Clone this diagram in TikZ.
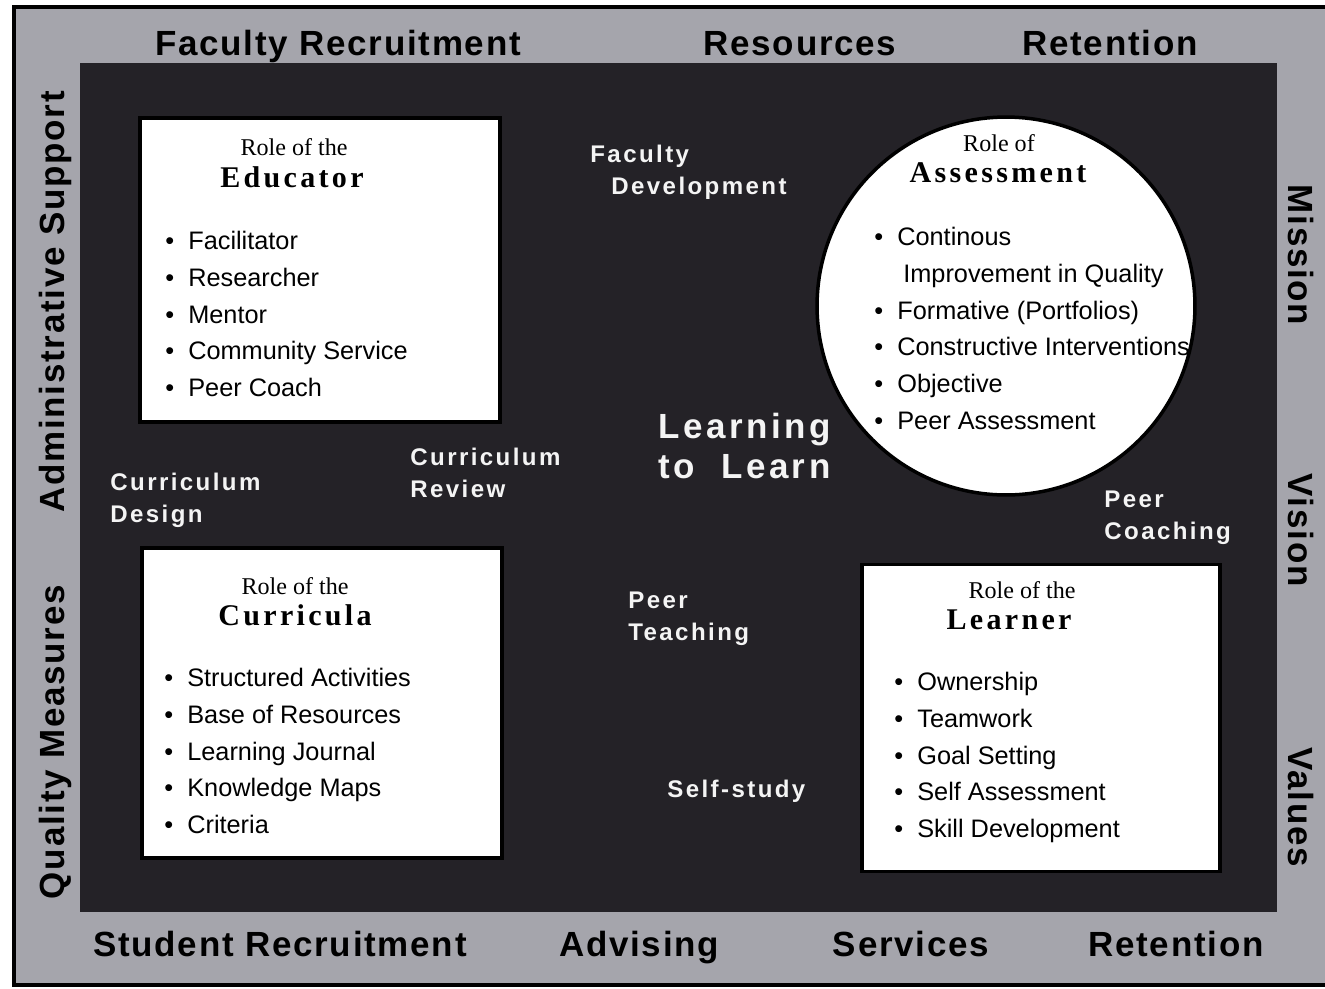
\documentclass[tikz,border=0pt]{standalone}
\usepackage{fontspec}
\setmainfont{Liberation Serif}
\setsansfont{Liberation Sans}
\newfontfamily\labelfont[LetterSpace=5]{Liberation Sans}
\newfontfamily\innerfont[LetterSpace=10]{Liberation Sans}
\newfontfamily\rolefont[LetterSpace=11]{Liberation Serif}
\usetikzlibrary{positioning}
\definecolor{framegray}{RGB}{165,165,172}
\definecolor{fieldblack}{RGB}{36,34,39}
\definecolor{labelwhite}{RGB}{244,244,244}
\newcommand{\itm}[1]{\makebox[0.46cm][l]{•}#1}

\begin{document}
\begin{tikzpicture}[x=0.02cm,y=-0.02cm,
  framelabel/.style={font=\labelfont\bfseries\fontsize{19.9}{24}\selectfont,inner sep=0pt,anchor=base},
  innerlabel/.style={font=\innerfont\bfseries\fontsize{13.7}{17.9}\selectfont,text=labelwhite,align=left,inner sep=0pt,anchor=north west},
  rolebox/.style={draw=black,line width=0.07cm,fill=white,inner sep=0pt},
  rolehead/.style={font=\rmfamily\fontsize{13.7}{16}\selectfont,inner sep=0pt,anchor=base},
  rolename/.style={font=\rolefont\bfseries\fontsize{17.1}{20}\selectfont,inner sep=0pt,anchor=base},
  roleitems/.style={font=\sffamily\fontsize{14.4}{20.9}\selectfont,align=left,inner sep=0pt,anchor=north west}]
  \useasboundingbox (0,0) rectangle (1325,988);
  \fill[white] (0,0) rectangle (1325,988);
  % frame and field
  \draw[line width=0.08cm,fill=framegray] (14,7) rectangle (1340,985);
  \fill[fieldblack] (80,63) rectangle (1277,912);
  % labels on the frame
  \node[framelabel] (facrec) at (338,55) {Faculty Recruitment};
  \node[framelabel] (resources) at (800,55) {Resources};
  \node[framelabel] (retentop) at (1110,55) {Retention};
  \node[framelabel] (sturec) at (280,956) {Student Recruitment};
  \node[framelabel] (advising) at (639,956) {Advising};
  \node[framelabel] (services) at (911,956) {Services};
  \node[framelabel] (retenbot) at (1176,956) {Retention};
  \node[framelabel,rotate=90] (admin) at (64,302) {Administrative Support};
  \node[framelabel,rotate=90] (quality) at (64,742) {Quality Measures};
  \node[framelabel,rotate=-90] (mission) at (1288,255) {Mission};
  \node[framelabel,rotate=-90] (vision) at (1288,530) {Vision};
  \node[framelabel,rotate=-90] (values) at (1288,807) {Values};
  % the four roles
  \node[rolebox,minimum width=7.2cm,minimum height=6.08cm] (educator) at (320,270) {};
  \node[rolebox,minimum width=7.2cm,minimum height=6.2cm] (curricula) at (322,703) {};
  \node[rolebox,minimum width=7.16cm,minimum height=6.14cm] (learner) at (1041,718) {};
  \node[rolebox,circle,minimum size=7.56cm] (assess) at (1006,306) {};
  \node[rolehead] (edu-role) at (294,155) {Role of the};
  \node[rolename] (edu-name) at (292,187) {Educator};
  \node[roleitems] (edu-items) at (165,231) {\itm{Facilitator}\\\itm{Researcher}\\\itm{Mentor}\\\itm{Community Service}\\\itm{Peer Coach}};
  \node[rolehead] (cur-role) at (295,594) {Role of the};
  \node[rolename] (cur-name) at (295,625) {Curricula};
  \node[roleitems] (cur-items) at (164,668) {\itm{Structured Activities}\\\itm{Base of Resources}\\\itm{Learning Journal}\\\itm{Knowledge Maps}\\\itm{Criteria}};
  \node[rolehead] (lea-role) at (1022,598) {Role of the};
  \node[rolename] (lea-name) at (1009,629) {Learner};
  \node[roleitems] (lea-items) at (894,672) {\itm{Ownership}\\\itm{Teamwork}\\\itm{Goal Setting}\\\itm{Self Assessment}\\\itm{Skill Development}};
  \node[rolehead] (ass-role) at (999,151) {Role of};
  \node[rolename] (ass-name) at (998,182) {Assessment};
  \node[roleitems] (ass-items) at (874,227) {\itm{Continous}\\\hspace*{0.58cm}Improvement in Quality\\\itm{Formative (Portfolios)}\\\itm{Constructive Interventions}\\\itm{Objective}\\\itm{Peer Assessment}};
  % labels in the field
  \node[innerlabel] (facdev) at (590,145) {Faculty\\\hspace*{0.42cm}Development};
  \node[innerlabel] (curdes) at (110,473) {Curriculum\\Design};
  \node[innerlabel] (currev) at (410,448) {Curriculum\\Review};
  \node[innerlabel,font=\innerfont\bfseries\fontsize{19.9}{22.5}\selectfont] (l2l) at (658,413) {Learning\\to\ \ Learn};
  \node[innerlabel] (peercoach) at (1104,491) {Peer\\Coaching};
  \node[innerlabel] (peerteach) at (628,592) {Peer\\Teaching};
  \node[innerlabel] (selfstudy) at (667,780) {Self-study};
\end{tikzpicture}
\end{document}
